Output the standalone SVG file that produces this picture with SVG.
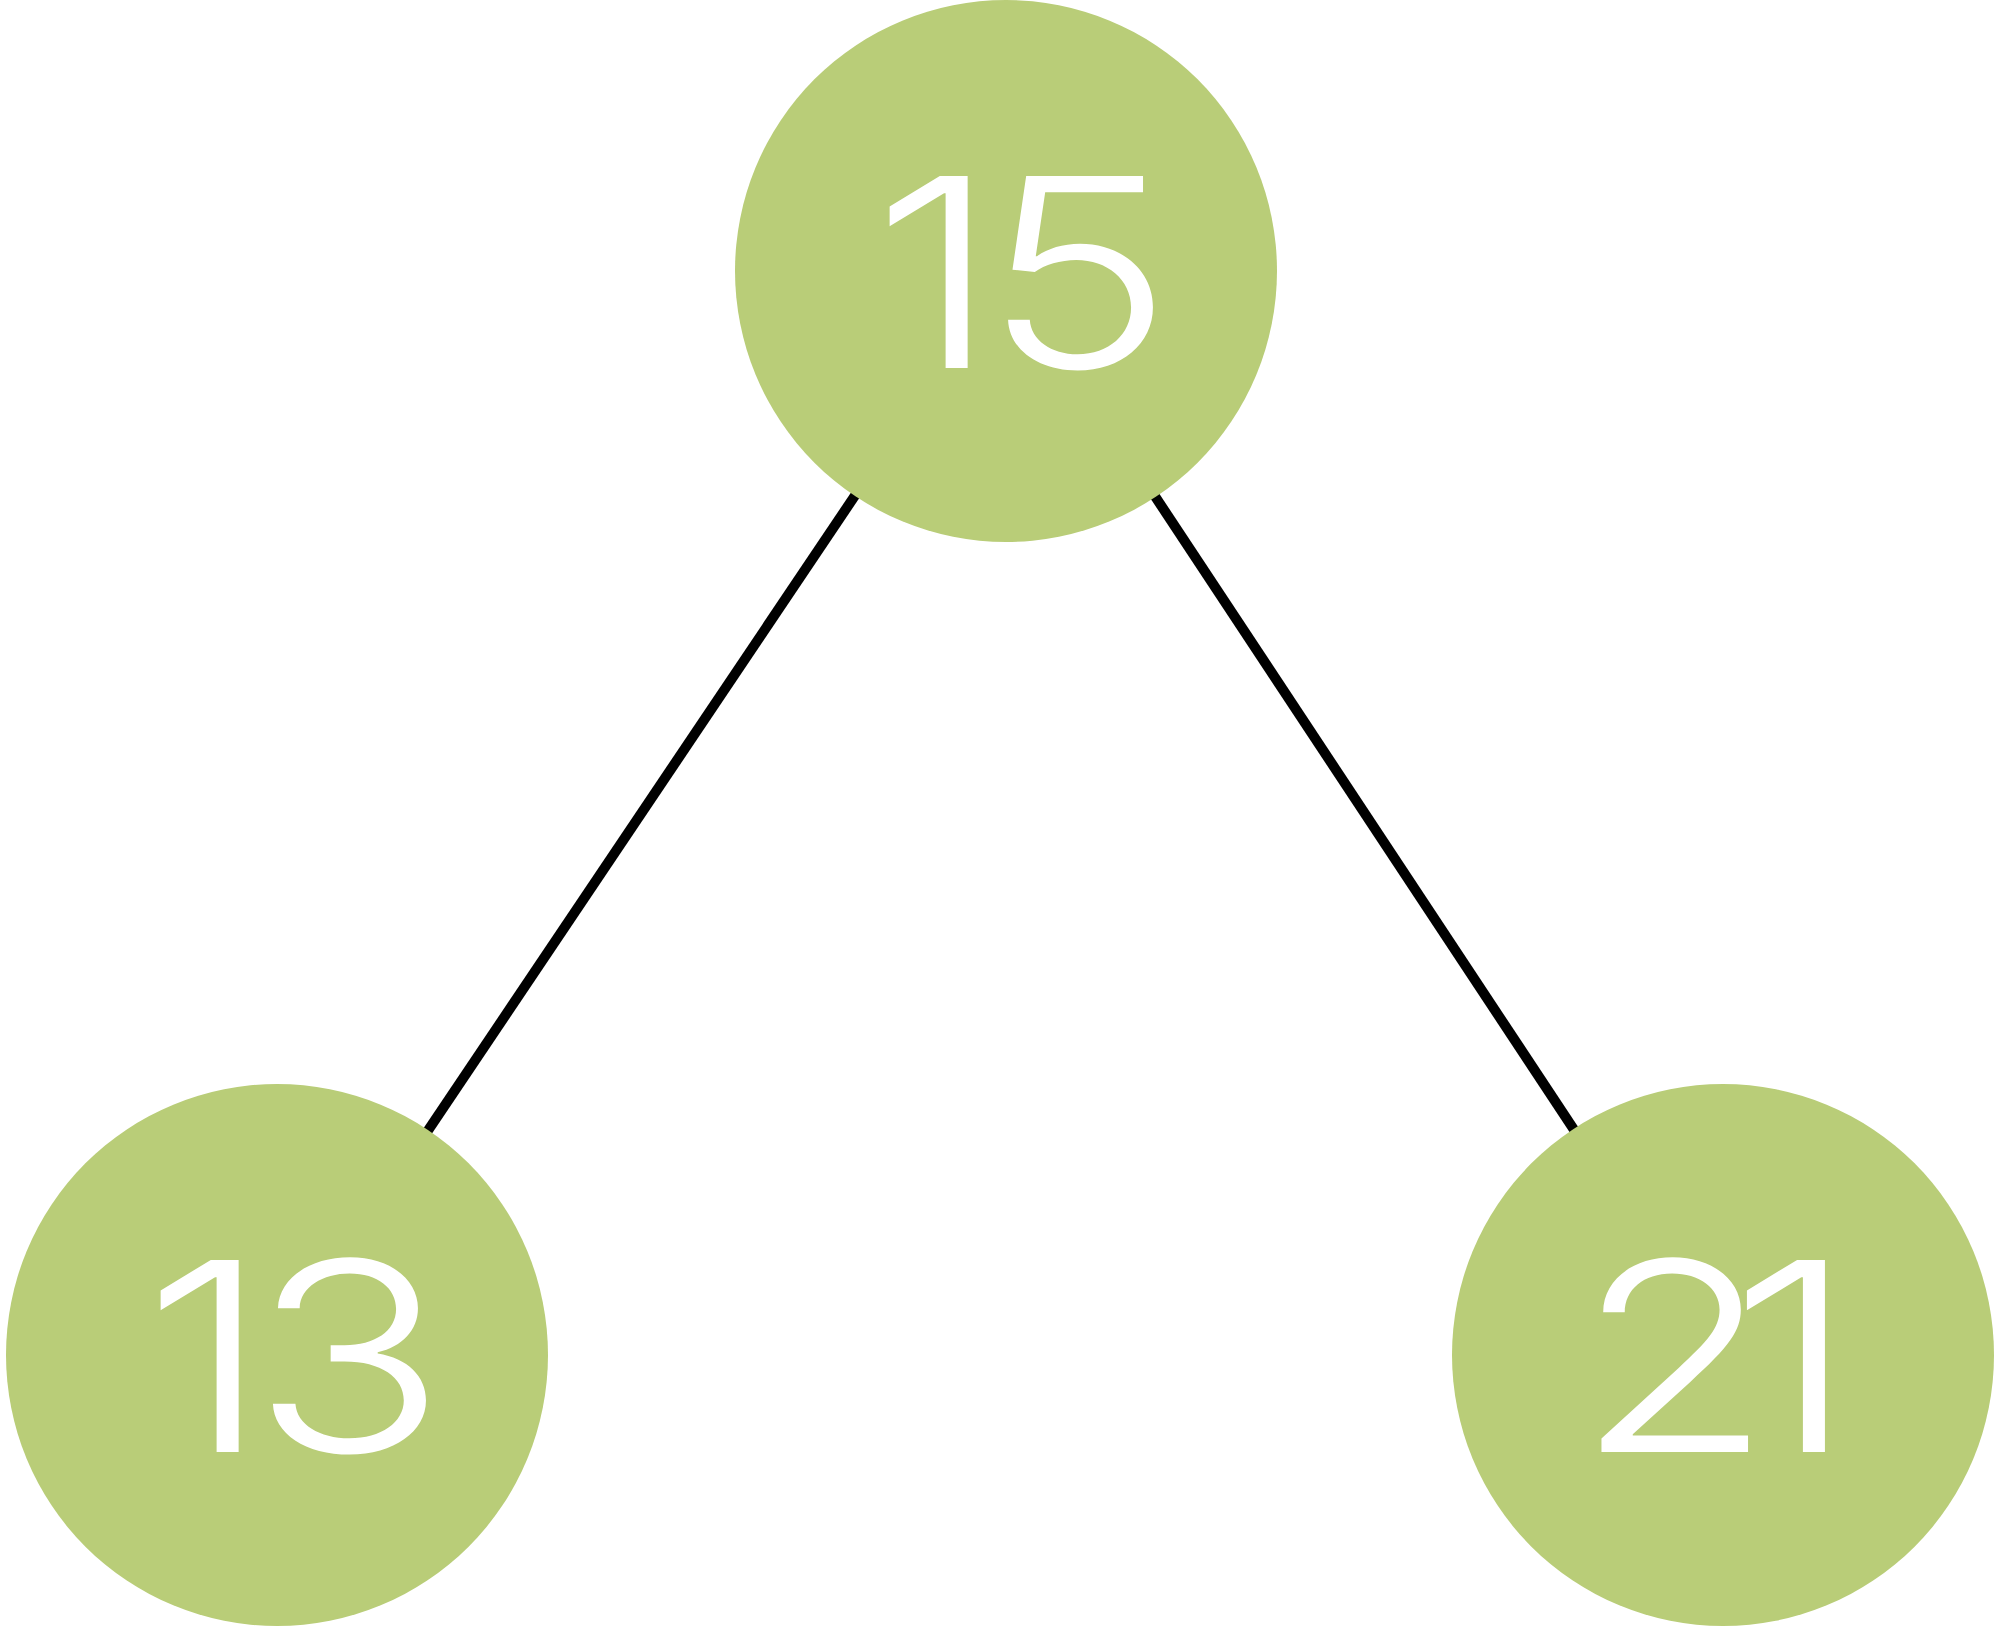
<svg xmlns="http://www.w3.org/2000/svg" width="2000" height="1626" viewBox="0 0 2000 1626">
<style>
.node{fill:#b9cd78}
.lbl{fill:#ffffff;font-family:Inter,Roboto,"Liberation Sans",sans-serif;font-weight:300;font-size:264px;text-anchor:middle}
.edge{stroke:#000000;stroke-width:10;fill:none}
</style>
<rect width="2000" height="1626" fill="#ffffff"/>
<g id="connectors">
<line class="edge" x1="1006" y1="271" x2="277" y2="1355"/>
<line class="edge" x1="1006" y1="271" x2="1723" y2="1355"/>
</g>
<g id="node-15">
<circle class="node" cx="1006" cy="271" r="271"/>
<text class="lbl" y="368" transform="matrix(1.22 0 0 1 1006 0)"><tspan x="-58">1</tspan><tspan x="59">5</tspan></text>
</g>
<g id="node-13">
<circle class="node" cx="277" cy="1355" r="271"/>
<text class="lbl" y="1452" transform="matrix(1.22 0 0 1 277 0)"><tspan x="-58">1</tspan><tspan x="59">3</tspan></text>
</g>
<g id="node-21">
<circle class="node" cx="1723" cy="1355" r="271"/>
<text class="lbl" y="1452" transform="matrix(1.22 0 0 1 1723 0)"><tspan x="-40">2</tspan><tspan x="57">1</tspan></text>
</g>
</svg>
